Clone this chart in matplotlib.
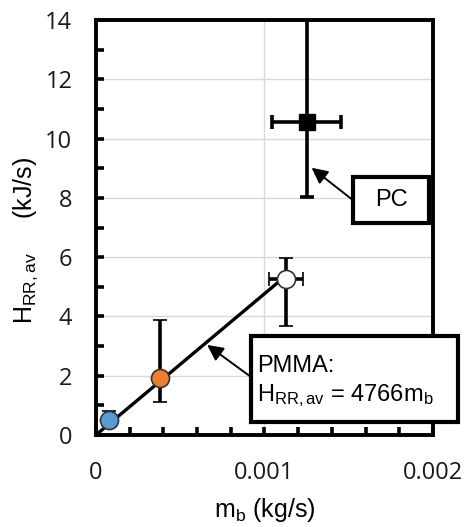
import numpy as np
import matplotlib.pyplot as plt
from matplotlib.patches import Rectangle

# PMMA and PC burning-rate / heat-release data
pmma_mb = [0.00008, 0.00038, 0.00113]
pmma_hrr = [0.5, 1.92, 5.27]
pmma_err_lo = [0.2, 0.8, 1.6]
pmma_err_hi = [0.3, 1.95, 0.7]
pmma_xerr_lo = [0.0, 0.0, 0.0001]
pmma_xerr_hi = [0.0, 0.0, 0.0001]
pmma_colors = ['#5B9BD5', '#ED7D31', 'white']

pc_mb = [0.001255]
pc_hrr = [10.57]
pc_err_lo = [2.55]
pc_err_hi = [3.8]
pc_xerr_lo = [0.00021]
pc_xerr_hi = [0.0002]

slope = 4766  # H_RR,av = 4766 m_b

plt.rcParams['font.family'] = ['Liberation Sans', 'DejaVu Sans']
plt.rcParams['mathtext.fontset'] = 'custom'
plt.rcParams['mathtext.rm'] = 'Liberation Sans'
plt.rcParams['mathtext.it'] = 'Liberation Sans'

fig = plt.figure(figsize=(4.68, 5.27), dpi=100)
ax = fig.add_axes([0.205, 0.1746, 0.72, 0.787])

# fitted line through the origin
xfit = np.array([0, max(pmma_mb)])
ax.plot(xfit, slope * xfit, color='black', lw=2.4, zorder=2)

for i in range(len(pmma_mb)):
    ax.errorbar(pmma_mb[i], pmma_hrr[i],
                yerr=[[pmma_err_lo[i]], [pmma_err_hi[i]]],
                xerr=[[pmma_xerr_lo[i]], [pmma_xerr_hi[i]]],
                fmt='o', ms=13, mfc=pmma_colors[i], mec='#333333', mew=1.2,
                ecolor='black', elinewidth=2.6, capsize=5, capthick=2.6, zorder=3)

ax.errorbar(pc_mb, pc_hrr, yerr=[pc_err_lo, pc_err_hi],
            xerr=[pc_xerr_lo, pc_xerr_hi],
            fmt='s', ms=12, mfc='black', mec='black',
            ecolor='black', elinewidth=2.6, capsize=5, capthick=2.6, zorder=3)

ax.set_xlim(0, 0.002)
ax.set_ylim(0, 14)
ax.set_xticks([0, 0.001, 0.002])
ax.set_xticklabels(['0', '0.001', '0.002'])
ax.set_yticks(range(0, 15, 2))
ax.set_xticks(np.arange(0, 0.0021, 0.0002), minor=True)
ax.set_yticks(range(0, 15, 1), minor=True)
ax.grid(True, which='major', color='#d9d9d9', lw=1)
ax.set_axisbelow(True)

for s in ax.spines.values():
    s.set_linewidth(2.8)
ax.tick_params(which='both', direction='in', width=2.6, labelsize=17,
               top=False, right=False)
ax.tick_params(which='major', length=6)
ax.tick_params(which='minor', length=6)
ax.tick_params(axis='x', which='major', pad=19)
ax.tick_params(axis='y', which='major', pad=17)
for lab in ax.get_xticklabels() + ax.get_yticklabels():
    lab.set_family(['Open Sans', 'DejaVu Sans'])
    lab.set_color('#1a1a1a')

ax.set_xlabel(r'$\mathregular{m_b}$ (kg/s)', fontsize=18, labelpad=8)
ax.set_ylabel(r'$\mathregular{H_{RR,av}}$     (kJ/s)', fontsize=18)
ax.yaxis.set_label_coords(-0.165, 0.47)

arrow = dict(arrowstyle='-|>', color='black', lw=1.4, mutation_scale=24,
             shrinkA=0, shrinkB=0)

# PC label box
ax.add_patch(Rectangle((0.763, 0.511), 0.225, 0.111, transform=ax.transAxes,
                       fc='white', ec='black', lw=3, zorder=5, clip_on=False))
ax.text(0.8755, 0.566, 'PC', transform=ax.transAxes, ha='center', va='center',
        fontsize=17, zorder=6)
ax.annotate('', xy=(0.00128, 9.02), xytext=(0.763, 0.566),
            textcoords='axes fraction', arrowprops=arrow, zorder=4)

# PMMA label box with fit equation
ax.add_patch(Rectangle((0.46, 0.031), 0.614, 0.208, transform=ax.transAxes,
                       fc='white', ec='black', lw=3, zorder=5, clip_on=False))
ax.text(0.478, 0.167, 'PMMA:', transform=ax.transAxes, ha='left', va='center',
        fontsize=17, zorder=6)
ax.text(0.478, 0.095, r'$\mathregular{H_{RR,av}}$ = 4766$\mathregular{m_b}$',
        transform=ax.transAxes, ha='left', va='center', fontsize=17, zorder=6)
ax.annotate('', xy=(0.00066, 3.04), xytext=(0.46, 0.14),
            textcoords='axes fraction', arrowprops=arrow, zorder=4)

fig.savefig('out.png', dpi=100)
